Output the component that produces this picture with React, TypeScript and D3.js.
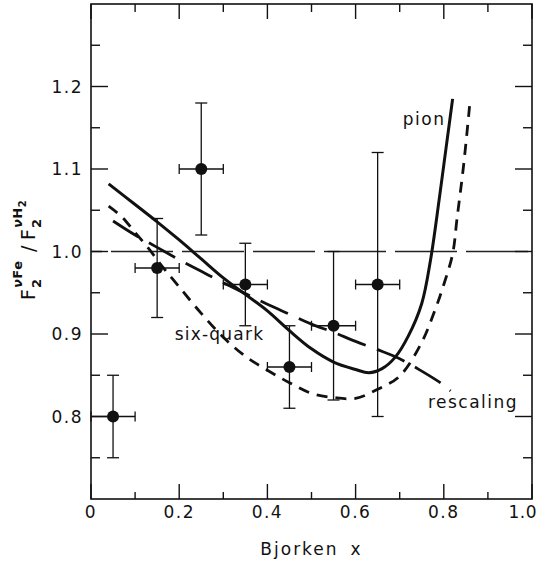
import React from "react";
import * as d3 from "d3";

// Measured structure-function ratio (Bjorken x bins)
const dataX = [0.05, 0.15, 0.25, 0.35, 0.45, 0.55, 0.65];
const dataY = [0.8, 0.98, 1.1, 0.96, 0.86, 0.91, 0.96];
const dataYErr = [0.05, 0.06, 0.08, 0.05, 0.05, 0.09, 0.16];
const dataXErr = [0.05, 0.05, 0.05, 0.05, 0.05, 0.05, 0.05];

// Model curves
const pionX = [0.04, 0.1, 0.15, 0.2, 0.25, 0.3, 0.35, 0.4, 0.45, 0.5, 0.55, 0.6, 0.63, 0.66, 0.69, 0.72, 0.75, 0.77, 0.79, 0.805, 0.82];
const pionY = [1.082, 1.057, 1.036, 1.014, 0.991, 0.968, 0.948, 0.928, 0.904, 0.882, 0.866, 0.857, 0.853, 0.858, 0.872, 0.898, 0.937, 0.99, 1.065, 1.125, 1.185];

const sixQuarkX = [0.04, 0.07, 0.1, 0.13, 0.16, 0.2, 0.25, 0.3, 0.35, 0.4, 0.45, 0.5, 0.55, 0.6, 0.65, 0.7, 0.75, 0.78, 0.8, 0.82, 0.83, 0.845, 0.86];
const sixQuarkY = [1.055, 1.042, 1.023, 1.004, 0.983, 0.957, 0.925, 0.896, 0.873, 0.856, 0.841, 0.828, 0.823, 0.822, 0.833, 0.849, 0.89, 0.929, 0.96, 0.997, 1.04, 1.105, 1.185];

const rescalingX = [0.05, 0.1, 0.15, 0.2, 0.25, 0.3, 0.35, 0.4, 0.45, 0.5, 0.55, 0.6, 0.65, 0.7, 0.75, 0.8, 0.815];
const rescalingY = [1.037, 1.02, 1.005, 0.99, 0.976, 0.962, 0.949, 0.936, 0.924, 0.912, 0.902, 0.891, 0.881, 0.87, 0.855, 0.838, 0.831];

// Axis ticks
const xMajor = [0, 0.2, 0.4, 0.6, 0.8, 1.0];
const xMajorLabels = ["0", "0.2", "0.4", "0.6", "0.8", "1.0"];
const xMinor = [0.1, 0.3, 0.5, 0.7, 0.9];
const yMajor = [0.8, 0.9, 1.0, 1.1, 1.2];
const yMajorLabels = ["0.8", "0.9", "1.0", "1.1", "1.2"];
const yMinor = [0.75, 0.85, 0.95, 1.05, 1.15, 1.25];

const W = 538;
const H = 567;
const left = 91;
const right = 532;
const top = 4;
const bottom = 499;

const FONT = "'DejaVu Sans', sans-serif";

export default function App() {
  const x = d3.scaleLinear().domain([0, 1]).range([left, right]);
  const y = d3.scaleLinear().domain([0.7, 1.3]).range([bottom, top]);

  const line = d3
    .line<[number, number]>()
    .x((d) => x(d[0]))
    .y((d) => y(d[1]))
    .curve(d3.curveCatmullRom.alpha(0.5));

  const zip = (a: number[], b: number[]) => a.map((v, i) => [v, b[i]] as [number, number]);

  const axisStroke = { stroke: "#111", strokeWidth: 1.6, fill: "none" };
  const tick = { stroke: "#111", strokeWidth: 1.4 };

  return (
    <svg
      width={W}
      height={H}
      style={{ position: "absolute", left: 0, top: 0, background: "#fff" }}
      fontFamily={FONT}
    >
      <rect x={0} y={0} width={W} height={H} fill="#fff" />

      {/* reference line at unity */}
      <line
        x1={x(0)}
        x2={x(1)}
        y1={y(1.0)}
        y2={y(1.0)}
        stroke="#222"
        strokeWidth={1.3}
        strokeDasharray="62 9"
        strokeDashoffset={-20}
      />

      {/* frame */}
      <rect x={left} y={top} width={right - left} height={bottom - top} {...axisStroke} />

      {/* bottom / top ticks */}
      {xMajor.map((v) => (
        <g key={"xM" + v}>
          <line x1={x(v)} x2={x(v)} y1={bottom} y2={bottom - 15} {...tick} />
          <line x1={x(v)} x2={x(v)} y1={top} y2={top + 15} {...tick} />
        </g>
      ))}
      {xMinor.map((v) => (
        <g key={"xm" + v}>
          <line x1={x(v)} x2={x(v)} y1={bottom} y2={bottom - 7} {...tick} />
          <line x1={x(v)} x2={x(v)} y1={top} y2={top + 8} {...tick} />
        </g>
      ))}
      {/* left / right ticks */}
      {yMajor.map((v) => (
        <g key={"yM" + v}>
          <line x1={left} x2={left + 17} y1={y(v)} y2={y(v)} {...tick} />
          <line x1={right} x2={right - 17} y1={y(v)} y2={y(v)} {...tick} />
        </g>
      ))}
      {yMinor.map((v) => (
        <g key={"ym" + v}>
          <line x1={left} x2={left + 9} y1={y(v)} y2={y(v)} {...tick} />
          <line x1={right} x2={right - 9} y1={y(v)} y2={y(v)} {...tick} />
        </g>
      ))}

      {/* tick labels (the last one is kept inside the page edge) */}
      {xMajor.map((v, i) => {
        const last = i === xMajor.length - 1;
        return (
          <text
            key={"xl" + v}
            x={last ? W - 1 : x(v)}
            y={518}
            textAnchor={last ? "end" : "middle"}
            fontSize={17}
            letterSpacing={last ? 0.5 : 1.5}
            fill="#111"
          >
            {xMajorLabels[i]}
          </text>
        );
      })}
      {yMajor.map((v, i) => (
        <text
          key={"yl" + v}
          x={left - 8}
          y={y(v) + 6}
          textAnchor="end"
          fontSize={17}
          letterSpacing={1.5}
          fill="#111"
        >
          {yMajorLabels[i]}
        </text>
      ))}

      {/* axis titles */}
      <text x={x(0.5)} y={555} textAnchor="middle" fontSize={17} letterSpacing={2} fill="#111">
        <tspan>Bjorken</tspan>
        <tspan dx={12}>x</tspan>
      </text>
      <g transform={`translate(35, 300) rotate(-90)`} fill="#111">
        <text x={0} y={0} fontSize={19}>F</text>
        <text x={12} y={6} fontSize={13} fontWeight="bold">2</text>
        <text x={12} y={-13} fontSize={13} fontWeight="bold" letterSpacing={0.5}>
          <tspan fontStyle="italic">ν</tspan>Fe
        </text>
        <text x={48} y={0} fontSize={19}>/</text>
        <text x={60} y={0} fontSize={19}>F</text>
        <text x={72} y={6} fontSize={13} fontWeight="bold">2</text>
        <text x={72} y={-13} fontSize={13} fontWeight="bold" letterSpacing={0.5}>
          <tspan fontStyle="italic">ν</tspan>H<tspan fontSize={10} dy={4}>2</tspan>
        </text>
      </g>

      {/* model curves */}
      <path d={line(zip(pionX, pionY)) || ""} fill="none" stroke="#111" strokeWidth={3} />
      <path
        d={line(zip(sixQuarkX, sixQuarkY)) || ""}
        fill="none"
        stroke="#111"
        strokeWidth={2.8}
        strokeDasharray="11 8"
      />
      <path
        d={line(zip(rescalingX, rescalingY)) || ""}
        fill="none"
        stroke="#111"
        strokeWidth={2.8}
        strokeDasharray="30 12"
      />

      {/* curve labels */}
      <text x={x(0.707)} y={y(1.153)} fontSize={17} letterSpacing={1.5} fill="#111">pion</text>
      <text x={x(0.764)} y={y(0.81)} fontSize={17} letterSpacing={1.5} fill="#111">rescaling</text>
      <text x={x(0.19)} y={y(0.893)} fontSize={17} letterSpacing={1.2} fill="#111">six-quark</text>

      {/* data points with error bars */}
      {dataX.map((xv, i) => {
        const cx = x(xv);
        const cy = y(dataY[i]);
        const x0 = x(xv - dataXErr[i]);
        const x1 = x(xv + dataXErr[i]);
        const y0 = y(dataY[i] - dataYErr[i]);
        const y1 = y(dataY[i] + dataYErr[i]);
        return (
          <g key={"pt" + i} stroke="#111" strokeWidth={1.3}>
            <line x1={cx} x2={cx} y1={y0} y2={y1} />
            <line x1={cx - 6} x2={cx + 6} y1={y0} y2={y0} />
            <line x1={cx - 6} x2={cx + 6} y1={y1} y2={y1} />
            <line x1={x0} x2={x1} y1={cy} y2={cy} />
            <line x1={x0} x2={x0} y1={cy - 5} y2={cy + 5} />
            <line x1={x1} x2={x1} y1={cy - 5} y2={cy + 5} />
            <circle cx={cx} cy={cy} r={6} fill="#111" stroke="none" />
          </g>
        );
      })}
    </svg>
  );
}
